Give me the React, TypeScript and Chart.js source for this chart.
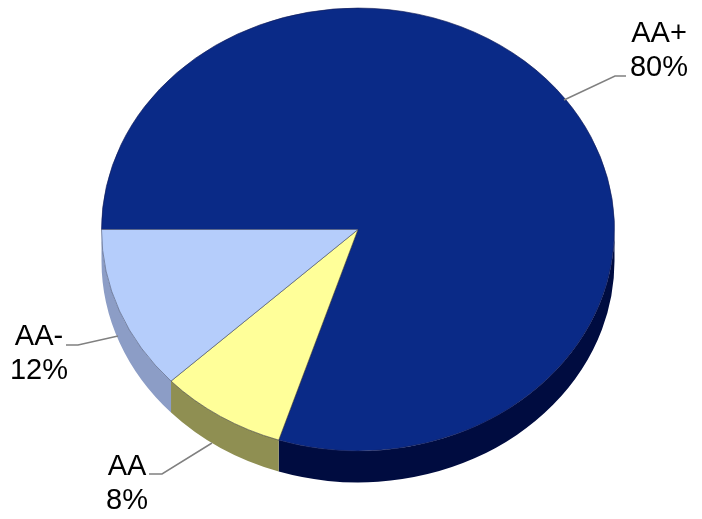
import { useEffect, useRef } from "react";
import { Chart, registerables } from "chart.js";

Chart.register(...registerables);

const categories = ["AA+", "AA", "AA-"];
const shares = [80, 8, 12];
const topColors = ["#0a2a87", "#ffff99", "#b5cdfb"];
const sideColors = ["#000c40", "#8f8f52", "#8c9dc6"];
const edgeColors = ["rgba(20,30,90,0.7)", "rgba(60,60,60,0.65)", "rgba(70,80,110,0.65)"];

// Label blocks and their leader lines, in canvas pixels.
const labelCentres = [
  { x: 659, y: 42 },
  { x: 127, y: 475 },
  { x: 39, y: 345 },
];
const leaders = [
  [[564, 100], [615, 76], [626, 76]],
  [[212, 443], [162, 474], [149, 474]],
  [[118, 336], [78, 345], [66, 345]],
];

const TILT_CENTRE_Y = 229.5;
const SQUASH = 221 / 256;
const DEPTH = 31.5;
const LINE_GAP = 34;

const tiltedPie = {
  id: "tiltedPie",
  beforeDatasetsDraw(chart: Chart) {
    const { ctx } = chart;
    const arcs = chart.getDatasetMeta(0).data as any[];
    // Side wall: only the front half of the rim is visible, as a band below each slice.
    arcs.forEach((arc, i) => {
      const start = Math.max(arc.startAngle, 0);
      const end = Math.min(arc.endAngle, Math.PI);
      if (end <= start) return;
      const rx = arc.outerRadius;
      const ry = rx * SQUASH;
      ctx.fillStyle = sideColors[i];
      ctx.beginPath();
      ctx.ellipse(arc.x, TILT_CENTRE_Y, rx, ry, 0, start, end);
      ctx.ellipse(arc.x, TILT_CENTRE_Y + DEPTH, rx, ry, 0, end, start, true);
      ctx.closePath();
      ctx.fill();
    });
    // The library then paints the top face inside this squashed transform.
    ctx.save();
    ctx.translate(0, TILT_CENTRE_Y);
    ctx.scale(1, SQUASH);
    ctx.translate(0, -arcs[0].y);
  },
  afterDatasetsDraw(chart: Chart) {
    chart.ctx.restore();
  },
  afterDraw(chart: Chart) {
    const { ctx } = chart;
    ctx.save();
    ctx.strokeStyle = "#808080";
    ctx.lineWidth = 1.5;
    leaders.forEach((points) => {
      ctx.beginPath();
      points.forEach(([x, y], i) => (i ? ctx.lineTo(x, y) : ctx.moveTo(x, y)));
      ctx.stroke();
    });
    ctx.fillStyle = "#000000";
    ctx.font = '29px "Liberation Sans", Arial, sans-serif';
    ctx.textAlign = "center";
    ctx.textBaseline = "alphabetic";
    categories.forEach((name, i) => {
      const { x, y } = labelCentres[i];
      ctx.fillText(name, x, y);
      ctx.fillText(`${shares[i]}%`, x, y + LINE_GAP);
    });
    ctx.restore();
  },
};

export default function App() {
  const canvasRef = useRef<HTMLCanvasElement>(null);

  useEffect(() => {
    const chart = new Chart(canvasRef.current!, {
      type: "pie",
      data: {
        labels: categories,
        datasets: [
          {
            data: shares,
            backgroundColor: topColors,
            borderColor: edgeColors,
            borderWidth: 1,
            clip: false,
          } as any,
        ],
      },
      options: {
        responsive: false,
        animation: false,
        rotation: -90,
        layout: { padding: { left: 101, right: 87, top: 0, bottom: 0 } },
        plugins: { legend: { display: false }, tooltip: { enabled: false } },
      },
      plugins: [tiltedPie],
    });
    return () => chart.destroy();
  }, []);

  return (
    <div style={{ position: "fixed", left: 0, top: 0, width: 702, height: 519, background: "#ffffff" }}>
      <canvas ref={canvasRef} width={702} height={519} style={{ display: "block" }} />
    </div>
  );
}
